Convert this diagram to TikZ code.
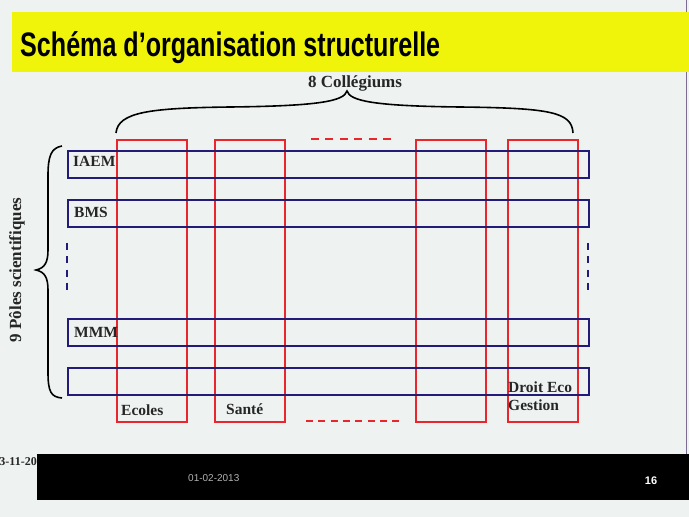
\documentclass[tikz,border=0pt]{standalone}
\usepackage{fontspec}
\setmainfont{Liberation Serif}
\setsansfont{Liberation Sans}
\usepackage{graphicx}
\definecolor{bg}{HTML}{EEF3F2}
\definecolor{ttl}{HTML}{EFF40A}
\definecolor{colred}{HTML}{E8262C}
\definecolor{rowblue}{HTML}{221C78}
\definecolor{edge}{HTML}{7C6C90}
\tikzset{
  colbox/.style={draw=colred, line width=1.8pt, minimum width=70pt, minimum height=282pt, inner sep=0pt, anchor=north west},
  rowbox/.style={draw=rowblue, line width=1.8pt, minimum width=521pt, minimum height=27pt, inner sep=0pt, anchor=north west},
  lbl/.style={font=\fontsize{15.5}{17}\selectfont\bfseries, text=black!85, inner sep=0pt},
  biglbl/.style={font=\fontsize{17}{19}\selectfont\bfseries, text=black!85, inner sep=0pt},
  reddash/.style={draw=colred, line width=1.8pt},
  bluedash/.style={draw=rowblue, line width=1.8pt, dash pattern=on 7pt off 6.3pt},
  bracepath/.style={draw=black, line width=1.6pt}
}
\begin{document}
\begin{tikzpicture}[x=1pt,y=-1pt]
\useasboundingbox (0,0) rectangle (689,517);
\clip (0,0) rectangle (689,517);
\fill[bg] (0,0) rectangle (689,517);
\draw[edge, line width=0.8pt] (686,0) -- (686,454);
% title bar
\node[fill=ttl, minimum width=677pt, minimum height=60pt, inner sep=0pt, anchor=north west] (titlebar) at (12,12) {};
\node[anchor=base west, inner sep=0pt] (title) at (20,56)
  {\resizebox{420pt}{\height}{\fontsize{34}{36}\selectfont\sffamily\bfseries Schéma d’organisation structurelle}};
% columns
\node[colbox] (c1) at (116,139) {};
\node[colbox] (c2) at (214,139) {};
\node[colbox] (c3) at (415,139) {};
\node[colbox] (c4) at (507,139) {};
% rows
\node[rowbox] (r1) at (67,150) {};
\node[rowbox] (r2) at (67,199) {};
\node[rowbox] (r3) at (67,318) {};
\node[rowbox] (r4) at (67,367) {};
% dashed ellipses
\coordinate (dt1) at (311,139); \coordinate (dt2) at (391,139);
\coordinate (db1) at (306,421); \coordinate (db2) at (399,421);
\draw[reddash, dash pattern=on 8pt off 6.4pt] (dt1) -- (dt2);
\draw[reddash, dash pattern=on 7pt off 5.3pt] (db1) -- (db2);
\coordinate (dl1) at (67,243); \coordinate (dl2) at (67,290);
\coordinate (dr1) at (588,243); \coordinate (dr2) at (588,290);
\draw[bluedash] (dl1) -- (dl2);
\draw[bluedash] (dr1) -- (dr2);
% labels
\node[lbl, anchor=west] (iaem) at (73,161) {IAEM};
\node[lbl, anchor=west] (bms) at (74,212) {BMS};
\node[lbl, anchor=west] (mmm) at (74,332) {MMM};
\node[lbl, anchor=west] (ecoles) at (121,410) {Ecoles};
\node[lbl, anchor=west] (sante) at (226,409) {Santé};
\node[lbl, anchor=west] (droit) at (508,387) {Droit Eco};
\node[lbl, anchor=west] (gestion) at (508,405) {Gestion};
% top brace
\draw[bracepath] (116,133) .. controls (118,112) and (150,108) .. (230,107)
  .. controls (320,106) and (344,101) .. (347,91)
  .. controls (350,101) and (374,106) .. (460,107)
  .. controls (550,108) and (572,112) .. (573,133);
\node[biglbl, anchor=center] (coll) at (355,83) {8 Collégiums};
% left brace
\draw[bracepath] (62,146) .. controls (51,148) and (48,156) .. (48,176) -- (48,250)
  .. controls (48,262) and (45,268) .. (36,270)
  .. controls (45,272) and (48,278) .. (48,290) -- (48,372)
  .. controls (48,392) and (51,397) .. (62,398);
\node[biglbl, rotate=90, anchor=center] (poles) at (17,270) {9 Pôles scientifiques};
% footer
\node[fill=black, minimum width=652pt, minimum height=46pt, inner sep=0pt, anchor=north west] (bar) at (37,454) {};
\node[font=\fontsize{10}{11}\selectfont\sffamily, text=black!30, anchor=west, inner sep=0pt] (date) at (188,478) {01-02-2013};
\node[font=\fontsize{11}{12}\selectfont\sffamily\bfseries, text=white, anchor=center, inner sep=0pt] (page) at (651,481) {16};
\node[lbl, font=\fontsize{12}{14}\selectfont\bfseries, anchor=east] (cut) at (37,462) {3-11-20};
\end{tikzpicture}
\end{document}
